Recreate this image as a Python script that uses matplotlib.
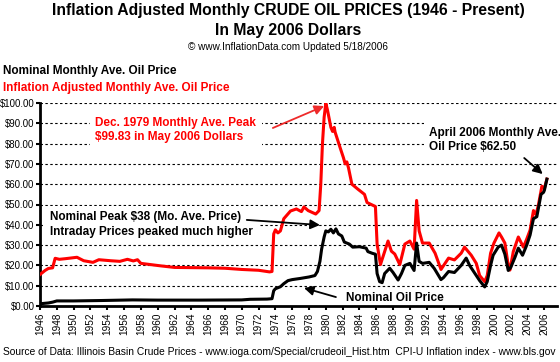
import matplotlib
matplotlib.use('Agg')
import matplotlib.pyplot as plt
from matplotlib.ticker import FuncFormatter

plt.rcParams['font.family'] = ['Liberation Sans', 'DejaVu Sans']

# nominal monthly average price
nom_year = [1946.0, 1946.5, 1947.0, 1947.5, 1948.0, 1950.0, 1953.3, 1957.0, 1960.0, 1965.0,
            1970.0, 1971.0, 1973.0, 1973.6, 1973.8, 1974.0, 1974.3, 1974.6, 1975.0, 1975.5,
            1976.0, 1977.0, 1978.0, 1978.7, 1979.0, 1979.3, 1979.5, 1979.8, 1980.0, 1980.3,
            1980.6, 1980.9, 1981.2, 1981.5, 1981.9, 1982.2, 1982.8, 1983.2, 1984.0, 1984.8,
            1985.0, 1985.5, 1985.9, 1986.1, 1986.4, 1986.7, 1987.0, 1987.6, 1988.0, 1988.6,
            1989.0, 1989.4, 1990.0, 1990.5, 1990.8, 1991.1, 1991.5, 1992.3, 1992.9, 1993.7,
            1994.0, 1994.6, 1995.3, 1996.1, 1996.7, 1997.1, 1997.9, 1998.3, 1998.9, 1999.2,
            1999.6, 1999.9, 2000.5, 2000.9, 2001.3, 2001.7, 2002.0, 2002.5, 2002.9, 2003.4,
            2003.9, 2004.3, 2004.7, 2005.1, 2005.6, 2005.9, 2006.0, 2006.3]
nom_price = [1.1, 1.3, 1.5, 1.9, 2.5, 2.5, 2.7, 3.0, 2.9, 2.9,
             3.0, 3.3, 3.4, 3.6, 7.5, 8.5, 9.0, 9.5, 11.0, 12.5,
             13.0, 13.6, 14.3, 15.0, 17.0, 22.0, 28.0, 34.0, 37.0, 36.5,
             37.8, 36.0, 38.0, 35.5, 34.5, 31.5, 30.5, 29.0, 29.2, 28.5,
             26.8, 26.0, 25.5, 16.0, 12.0, 11.5, 16.0, 18.6, 16.5, 12.8,
             16.0, 20.0, 21.0, 17.5, 31.0, 22.0, 21.0, 21.5, 18.5, 13.0,
             14.0, 17.0, 16.5, 20.0, 23.6, 20.0, 15.0, 12.5, 9.4, 12.0,
             20.0, 25.0, 29.0, 30.0, 25.5, 17.5, 19.0, 24.0, 28.5, 25.0,
             30.0, 35.0, 43.0, 44.0, 55.0, 56.0, 57.0, 62.5]

# inflation adjusted price, May 2006 dollars
real_year = [1946.0, 1946.3, 1946.6, 1947.0, 1947.5, 1947.8, 1948.3, 1949.0, 1950.4, 1951.2,
             1952.3, 1953.0, 1954.4, 1955.5, 1956.4, 1957.1, 1957.6, 1958.0, 1960.3, 1962.0,
             1966.0, 1968.0, 1970.0, 1971.0, 1972.0, 1973.3, 1973.6, 1973.8, 1974.0, 1974.3,
             1974.6, 1975.0, 1975.8, 1976.5, 1977.1, 1977.4, 1977.9, 1978.8, 1979.2, 1979.4,
             1979.6, 1979.8, 1980.0, 1980.2, 1980.6, 1980.8, 1981.0, 1981.1, 1981.7, 1982.1,
             1982.3, 1982.5, 1982.7, 1982.9, 1983.1, 1983.8, 1984.6, 1984.9, 1985.9, 1986.1,
             1986.5, 1987.4, 1987.8, 1988.2, 1988.8, 1989.4, 1990.0, 1990.5, 1990.8, 1991.1,
             1991.5, 1992.3, 1993.0, 1993.7, 1994.6, 1995.3, 1996.1, 1996.5, 1997.3, 1997.9,
             1998.3, 1998.9, 1999.2, 1999.6, 2000.0, 2000.6, 2000.9, 2001.3, 2001.7, 2001.9,
             2002.3, 2002.9, 2003.5, 2003.9, 2004.3, 2004.7, 2005.0, 2005.3, 2005.7, 2006.0,
             2006.3]
real_price = [15.5, 16.5, 17.5, 18.5, 18.8, 23.5, 23.0, 23.3, 24.0, 22.3,
              21.5, 22.8, 22.3, 22.0, 23.0, 22.2, 22.8, 21.0, 19.8, 19.0,
              18.8, 18.6, 18.0, 17.8, 17.6, 16.8, 17.0, 35.5, 37.5, 36.0,
              37.0, 43.0, 46.8, 47.8, 46.5, 48.8, 47.0, 45.3, 47.0, 60.0,
              80.0, 93.0, 99.83, 96.5, 88.0, 86.0, 88.0, 85.7, 78.0, 73.0,
              70.0, 71.0, 68.0, 64.0, 60.0, 57.6, 55.0, 51.0, 49.0, 30.5,
              20.4, 32.0, 27.0, 25.6, 20.4, 30.5, 32.0, 28.0, 52.0, 37.0,
              31.0, 31.0, 26.0, 18.0, 23.6, 22.7, 26.0, 29.0, 25.0, 21.0,
              15.0, 12.0, 15.0, 26.0, 31.0, 36.0, 34.0, 31.0, 20.0, 17.7,
              26.8, 34.0, 29.0, 33.0, 37.4, 47.0, 45.0, 50.0, 59.0, 58.0,
              62.5]

year_ticks = list(range(1946, 2007, 2))
price_ticks = list(range(0, 101, 10))

fig = plt.figure(figsize=(5.6, 3.62), dpi=100)
ax = fig.add_axes([40/560, 1 - 306/362, 517/560, 203/362])

ax.plot(real_year, real_price, color='#ff0000', lw=2.2, zorder=3)
ax.plot(nom_year, nom_price, color='black', lw=2.2, zorder=4)

ax.set_xlim(1946, 2007.5)
ax.set_ylim(0, 100)
ax.set_xticks(year_ticks)
ax.set_xticklabels([str(y) for y in year_ticks], rotation=90, fontsize=7.2)
ax.set_yticks(price_ticks)
ax.yaxis.set_major_formatter(FuncFormatter(lambda v, p: f"${v:.2f}"))
ax.tick_params(axis='y', labelsize=6.9, length=3, width=1.5, pad=1)
ax.tick_params(axis='x', length=3, width=1.5, pad=2)
ax.yaxis.grid(True, color='black', linestyle=(0, (2.2, 2.2)), lw=0.8)
ax.set_axisbelow(True)
for s in ['top', 'right']:
    ax.spines[s].set_visible(False)
for s in ['left', 'bottom']:
    ax.spines[s].set_linewidth(2)

# titles
fig.text(288/560, 1 - 10/362, "Inflation Adjusted Monthly CRUDE OIL PRICES (1946 - Present)",
         ha='center', va='center', fontsize=11.3, fontweight='bold')
fig.text(288/560, 1 - 30/362, "In May 2006 Dollars", ha='center', va='center',
         fontsize=11.3, fontweight='bold')
fig.text(288/560, 1 - 47/362, "\u00a9 www.InflationData.com Updated 5/18/2006", ha='center',
         va='center', fontsize=7.2)
fig.text(3/560, 1 - 71/362, "Nominal Monthly Ave. Oil Price", ha='left', va='center',
         fontsize=8.5, fontweight='bold')
fig.text(3/560, 1 - 88/362, "Inflation Adjusted Monthly Ave. Oil Price", ha='left',
         va='center', fontsize=8.5, fontweight='bold', color='#ff0000')
fig.text(3/560, 1 - 352/362,
         "Source of Data: Illinois Basin Crude Prices - www.ioga.com/Special/crudeoil_Hist.htm  "
         "CPI-U Inflation index - www.bls.gov", ha='left', va='center', fontsize=7.4)

white = dict(facecolor='white', edgecolor='none', pad=4)
ax.text(1952.6, 93.0, "Dec. 1979 Monthly Ave. Peak\n$99.83 in May 2006 Dollars", color='#ff0000',
        fontsize=8.5, fontweight='bold', ha='left', va='top', linespacing=1.25, bbox=white, zorder=5)
ax.annotate('', xy=(1979.8, 98.5), xytext=(1973.7, 87.7),
            arrowprops=dict(arrowstyle='-|>', color='#ee2a2a', lw=1.3, mutation_scale=14,
                            shrinkA=0, shrinkB=0), zorder=6)

ax.text(1947.2, 40.1, "Nominal Peak $38 (Mo. Ave. Price)\nIntraday Prices peaked much higher",
        fontsize=8.5, fontweight='bold', ha='left', va='center', linespacing=1.25, bbox=white, zorder=5)
ax.annotate('', xy=(1979.3, 39.9), xytext=(1970.6, 42.4),
            arrowprops=dict(arrowstyle='-|>', color='black', lw=1.3, mutation_scale=14,
                            shrinkA=0, shrinkB=0), zorder=6)

ax.text(1982.4, 3.9, "Nominal Oil Price", fontsize=8.5, fontweight='bold', ha='left', va='center',
        bbox=dict(facecolor='white', edgecolor='none', pad=1), zorder=5)
ax.annotate('', xy=(1977.4, 8.9), xytext=(1981.2, 4.4),
            arrowprops=dict(arrowstyle='-|>', color='black', lw=1.3, mutation_scale=14,
                            shrinkA=0, shrinkB=0), zorder=6)

ax.text(1992.3, 81.8, "April 2006 Monthly Ave.\nOil Price $62.50", fontsize=8.5, fontweight='bold',
        ha='left', va='center', linespacing=1.25, bbox=white, zorder=5)
ax.annotate('', xy=(2005.8, 65.0), xytext=(2003.6, 72.9),
            arrowprops=dict(arrowstyle='-|>', color='black', lw=1.3, mutation_scale=14,
                            shrinkA=0, shrinkB=0), zorder=6)

fig.savefig('out.png', dpi=100)
